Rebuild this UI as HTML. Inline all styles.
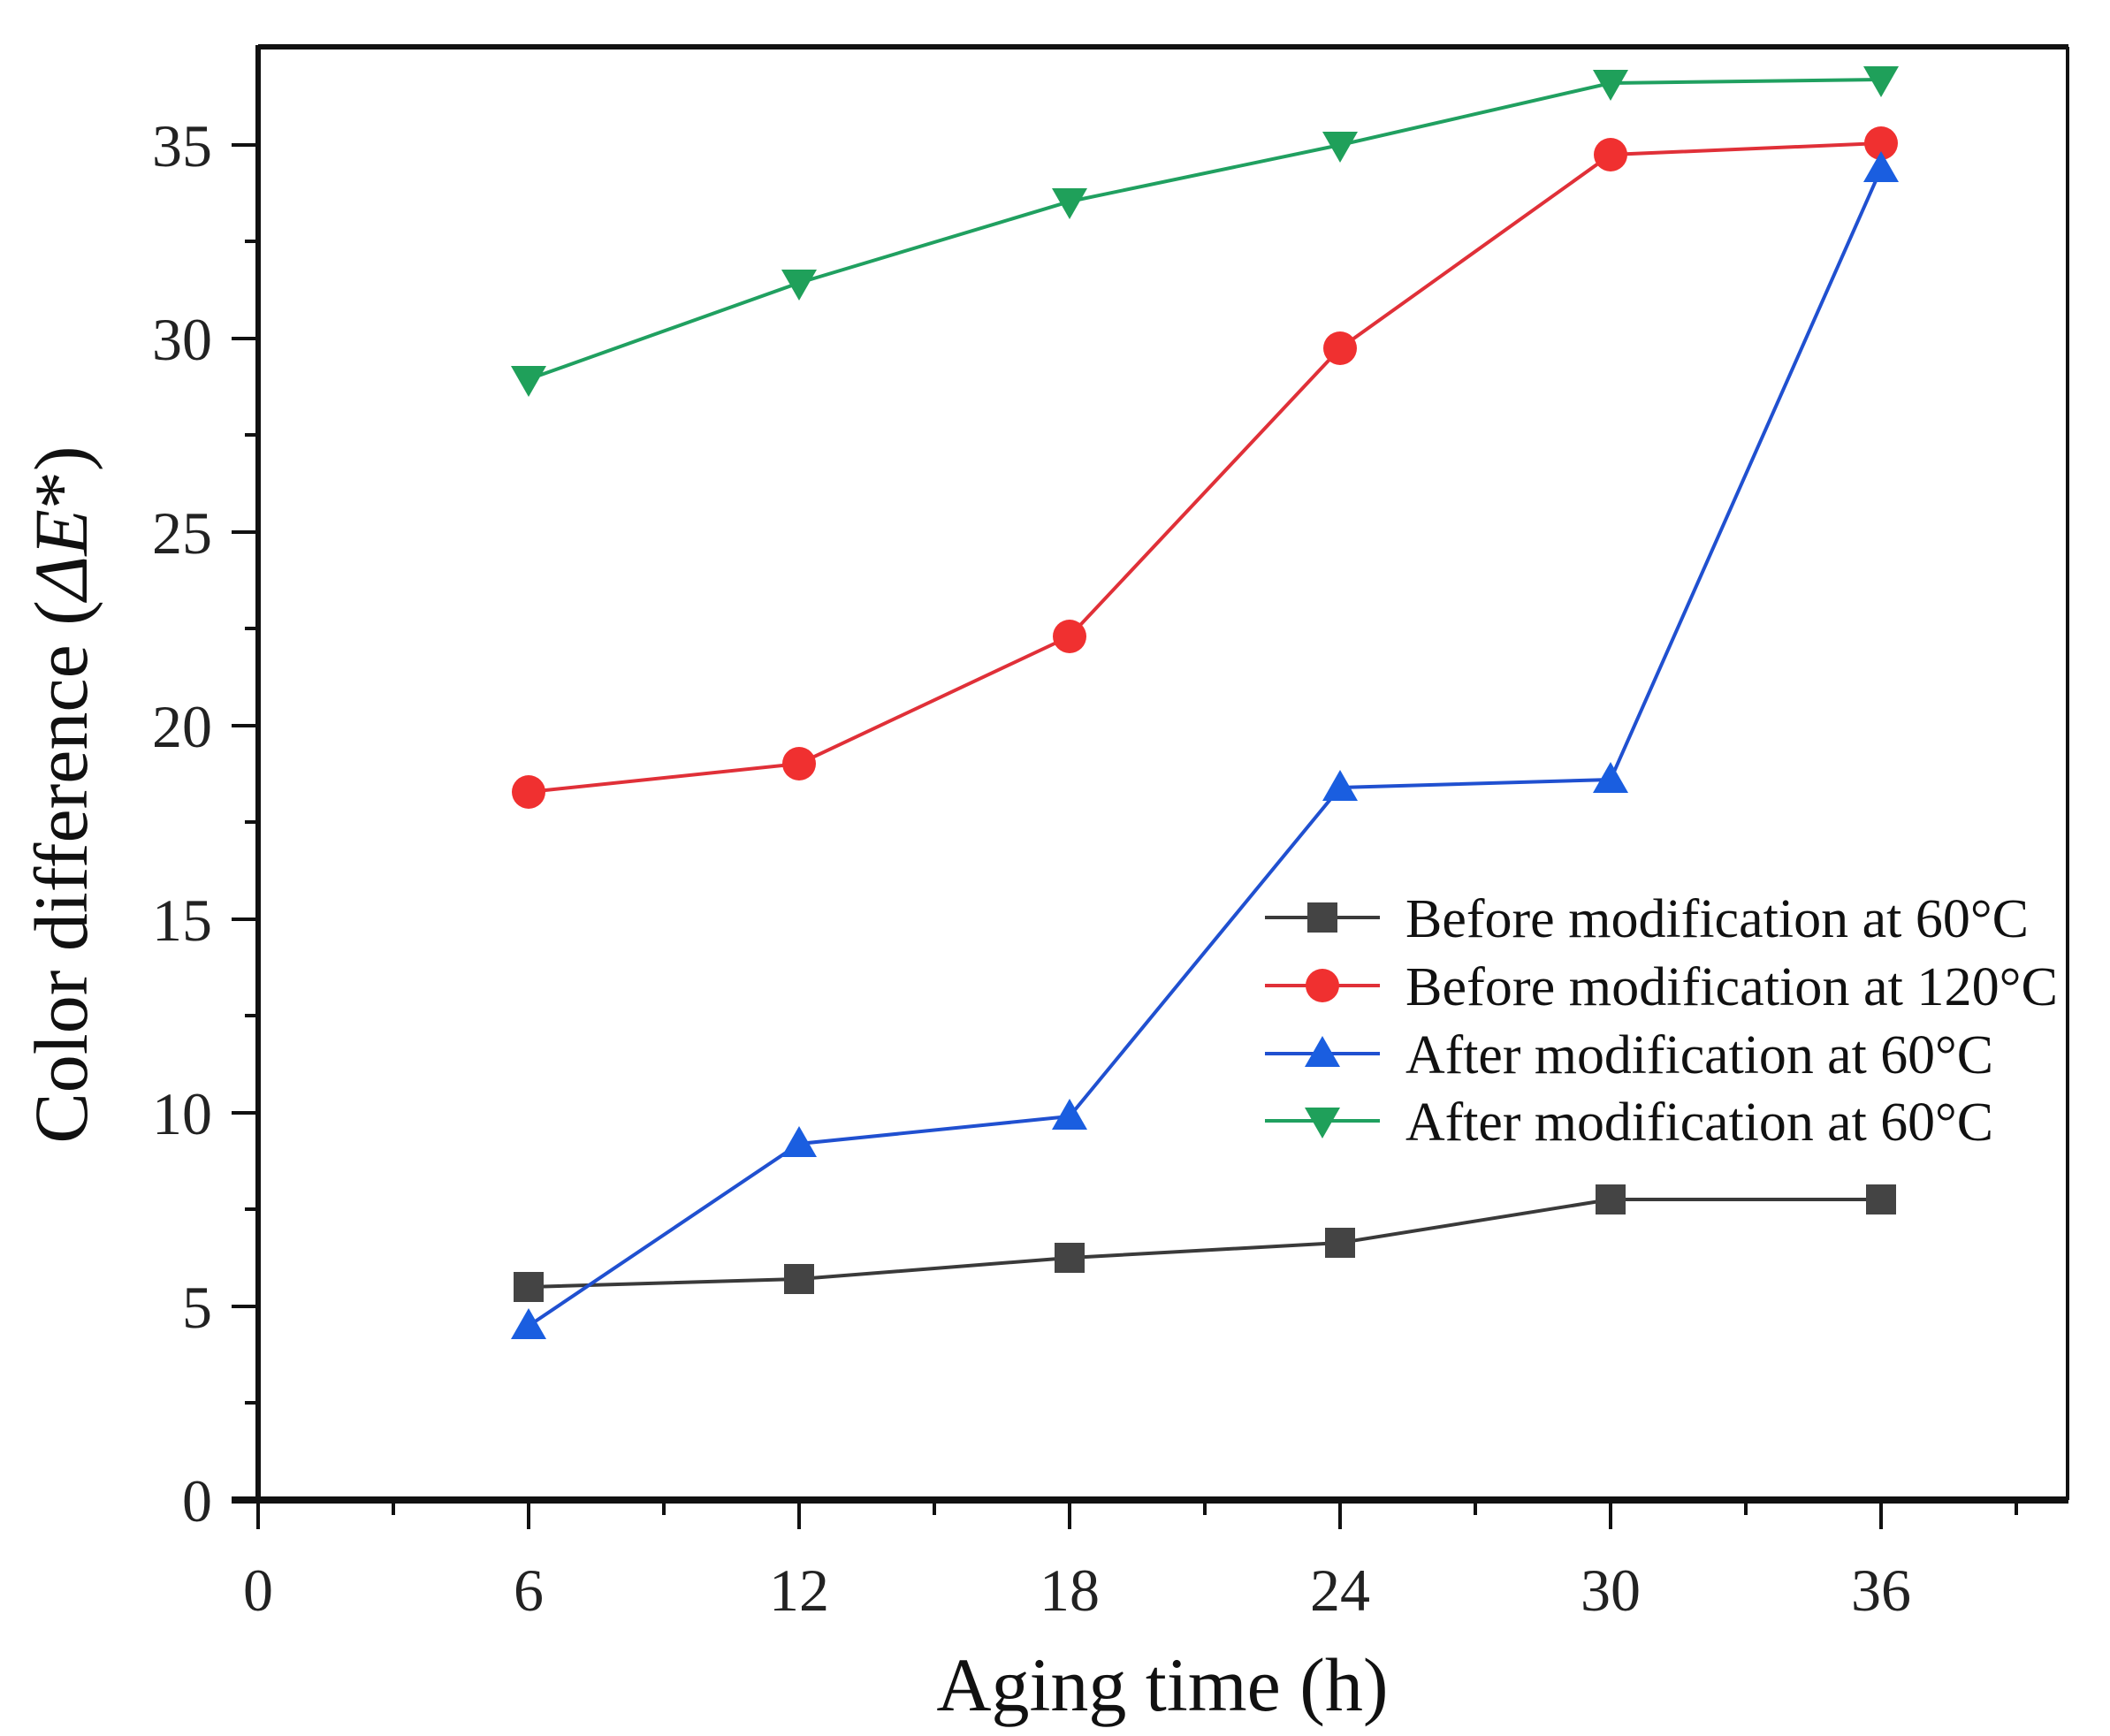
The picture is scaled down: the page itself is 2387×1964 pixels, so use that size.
<!DOCTYPE html>
<html><head><meta charset="utf-8"><style>html,body{margin:0;padding:0;background:#fff}svg{display:block}</style></head>
<body>
<svg width="2387" height="1964" viewBox="0 0 2387 1964" xmlns="http://www.w3.org/2000/svg" font-family="Liberation Serif, serif">
<rect width="2387" height="1964" fill="#fff"/>
<g stroke="#111" fill="none">
<line x1="292" y1="53" x2="2340" y2="53" stroke-width="6"/>
<line x1="2339" y1="53" x2="2339" y2="1697" stroke-width="4"/>
<line x1="292" y1="51" x2="292" y2="1700" stroke-width="6"/>
<line x1="262" y1="1697" x2="2340" y2="1697" stroke-width="8"/>
</g>
<g stroke="#111" stroke-width="4">
<line x1="262" y1="1697" x2="292" y2="1697"/>
<line x1="262" y1="1478" x2="292" y2="1478"/>
<line x1="262" y1="1259" x2="292" y2="1259"/>
<line x1="262" y1="1040" x2="292" y2="1040"/>
<line x1="262" y1="821" x2="292" y2="821"/>
<line x1="262" y1="602" x2="292" y2="602"/>
<line x1="262" y1="383" x2="292" y2="383"/>
<line x1="262" y1="164" x2="292" y2="164"/>
<line x1="277" y1="1587" x2="292" y2="1587"/>
<line x1="277" y1="1368" x2="292" y2="1368"/>
<line x1="277" y1="1149" x2="292" y2="1149"/>
<line x1="277" y1="930" x2="292" y2="930"/>
<line x1="277" y1="711" x2="292" y2="711"/>
<line x1="277" y1="492" x2="292" y2="492"/>
<line x1="277" y1="273" x2="292" y2="273"/>
<line x1="292" y1="1697" x2="292" y2="1730"/>
<line x1="598" y1="1697" x2="598" y2="1730"/>
<line x1="904" y1="1697" x2="904" y2="1730"/>
<line x1="1210" y1="1697" x2="1210" y2="1730"/>
<line x1="1516" y1="1697" x2="1516" y2="1730"/>
<line x1="1822" y1="1697" x2="1822" y2="1730"/>
<line x1="2128" y1="1697" x2="2128" y2="1730"/>
<line x1="445" y1="1697" x2="445" y2="1714"/>
<line x1="751" y1="1697" x2="751" y2="1714"/>
<line x1="1057" y1="1697" x2="1057" y2="1714"/>
<line x1="1363" y1="1697" x2="1363" y2="1714"/>
<line x1="1669" y1="1697" x2="1669" y2="1714"/>
<line x1="1975" y1="1697" x2="1975" y2="1714"/>
<line x1="2281" y1="1697" x2="2281" y2="1714"/>
</g>
<g font-size="68" fill="#222" text-anchor="end">
<text x="240" y="1721">0</text>
<text x="240" y="1502">5</text>
<text x="240" y="1283">10</text>
<text x="240" y="1064">15</text>
<text x="240" y="845">20</text>
<text x="240" y="626">25</text>
<text x="240" y="407">30</text>
<text x="240" y="188">35</text>
</g>
<g font-size="68" fill="#222" text-anchor="middle">
<text x="292" y="1822">0</text>
<text x="598" y="1822">6</text>
<text x="904" y="1822">12</text>
<text x="1210" y="1822">18</text>
<text x="1516" y="1822">24</text>
<text x="1822" y="1822">30</text>
<text x="2128" y="1822">36</text>
</g>
<text x="1315" y="1935" font-size="86" text-anchor="middle" fill="#111">Aging time (h)</text>
<text transform="translate(98,899) rotate(-90)" font-size="86" text-anchor="middle" fill="#111">Color difference (<tspan font-style="italic">ΔE</tspan>*)</text>
<polyline fill="none" stroke="#3a3a3a" stroke-width="4" points="598,1456 904,1447 1210,1423 1516,1406 1822,1357 2128,1357"/>
<g fill="#444"><rect x="581" y="1439" width="34" height="34"/><rect x="887" y="1430" width="34" height="34"/><rect x="1193" y="1406" width="34" height="34"/><rect x="1499" y="1389" width="34" height="34"/><rect x="1805" y="1340" width="34" height="34"/><rect x="2111" y="1340" width="34" height="34"/></g>
<polyline fill="none" stroke="#e03038" stroke-width="4" points="598,896 904,864 1210,720 1516,394 1822,175 2128,162"/>
<g fill="#f03030"><circle cx="598" cy="896" r="19"/><circle cx="904" cy="864" r="19"/><circle cx="1210" cy="720" r="19"/><circle cx="1516" cy="394" r="19"/><circle cx="1822" cy="175" r="19"/><circle cx="2128" cy="162" r="19"/></g>
<polyline fill="none" stroke="#2050d0" stroke-width="4" points="598,1500 904,1294 1210,1263 1516,891 1822,882 2128,191"/>
<g fill="#1a5ee0">
<polygon points="598,1480 618,1515 578,1515"/><polygon points="904,1274 924,1309 884,1309"/><polygon points="1210,1243 1230,1278 1190,1278"/><polygon points="1516,871 1536,906 1496,906"/><polygon points="1822,862 1842,897 1802,897"/><polygon points="2128,171 2148,206 2108,206"/></g>
<polyline fill="none" stroke="#20a060" stroke-width="4" points="598,429 904,320 1210,228 1516,164 1822,94 2128,90"/>
<g fill="#1fa05a">
<polygon points="578,414 618,414 598,449"/><polygon points="884,305 924,305 904,340"/><polygon points="1190,213 1230,213 1210,248"/><polygon points="1496,149 1536,149 1516,184"/><polygon points="1802,79 1842,79 1822,114"/><polygon points="2108,75 2148,75 2128,110"/></g>
<g stroke-width="4">
<line x1="1431" y1="1038" x2="1561" y2="1038" stroke="#3a3a3a"/>
<line x1="1431" y1="1115" x2="1561" y2="1115" stroke="#e03038"/>
<line x1="1431" y1="1192" x2="1561" y2="1192" stroke="#2050d0"/>
<line x1="1431" y1="1268" x2="1561" y2="1268" stroke="#20a060"/>
</g>
<rect x="1479" y="1021" width="34" height="34" fill="#444"/>
<circle cx="1496" cy="1115" r="19" fill="#f03030"/>
<polygon points="1496,1172 1516,1207 1476,1207" fill="#1a5ee0"/>
<polygon points="1476,1253 1516,1253 1496,1288" fill="#1fa05a"/>
<g font-size="62" fill="#111">
<text x="1590" y="1060" textLength="705" lengthAdjust="spacingAndGlyphs">Before modification at 60°C</text>
<text x="1590" y="1137" textLength="738" lengthAdjust="spacingAndGlyphs">Before modification at 120°C</text>
<text x="1590" y="1214" textLength="665" lengthAdjust="spacingAndGlyphs">After modification at 60°C</text>
<text x="1590" y="1290" textLength="665" lengthAdjust="spacingAndGlyphs">After modification at 60°C</text>
</g>
</svg>
</body></html>
